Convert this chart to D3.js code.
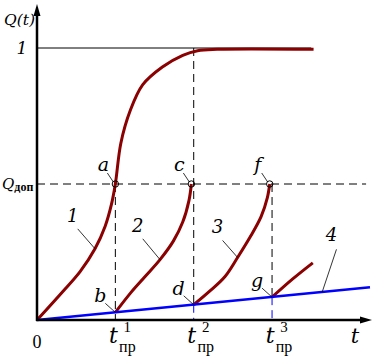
<!DOCTYPE html>
<html>
<head>
<meta charset="utf-8">
<script src="https://cdn.jsdelivr.net/npm/d3@7"></script>
<style>
  body { margin: 0; background: #fff; }
</style>
</head>
<body>
<div id="chart"></div>
<script>
// curve 1: full S-shaped growth from 0 to 1
const curve1 = [
  [0, 0], [0.33, 0.105], [0.55, 0.178], [0.74, 0.262], [0.87, 0.345],
  [0.95, 0.425], [1.0, 0.5], [1.07, 0.65], [1.19, 0.77], [1.35, 0.865],
  [1.6, 0.93], [1.86, 0.973], [2.05, 0.99], [2.3, 0.995], [3.53, 0.995]
];
// curve 2: restart at b up to c
const curve2 = [
  [1.0, 0.028], [1.19, 0.098], [1.38, 0.16], [1.57, 0.222], [1.74, 0.29],
  [1.86, 0.36], [1.94, 0.44], [1.97, 0.5]
];
// curve 3: restart at d up to f
const curve3 = [
  [2.0, 0.056], [2.2, 0.105], [2.4, 0.16], [2.56, 0.23], [2.72, 0.305],
  [2.86, 0.38], [2.94, 0.45], [2.97, 0.5]
];
// curve after g
const curve5 = [[3.0, 0.084], [3.26, 0.15], [3.52, 0.21]];
// curve 4: straight line
const curve4 = [[0, 0], [4.25, 0.12]];

const tPr = [1, 2, 3];
const qDop = 0.5;
const markers = [
  {name: "a", t: 1.0, q: 0.5},
  {name: "c", t: 1.97, q: 0.5},
  {name: "f", t: 2.97, q: 0.5}
];
const lowPoints = [
  {name: "b", t: 1, q: 0.028},
  {name: "d", t: 2, q: 0.056},
  {name: "g", t: 3, q: 0.084}
];
const curveLabels = [
  {name: "1", t: 0.74, q: 0.262},
  {name: "2", t: 1.57, q: 0.222},
  {name: "3", t: 2.56, q: 0.23},
  {name: "4", t: 3.64, q: 0.103}
];

const W = 372, H = 356;
const serif = "'Liberation Serif', 'Times New Roman', serif";
const italicFont = "'DejaVu Serif', serif";
const svg = d3.select("#chart").append("svg")
  .attr("width", W).attr("height", H)
  .style("font-family", serif);

const x = d3.scaleLinear().domain([0, 4.25]).range([37, 370]);
const y = d3.scaleLinear().domain([0, 1]).range([320, 48]);

const red = "#8b0000", blue = "#0000ff";
const line = d3.line().x(d => x(d[0])).y(d => y(d[1])).curve(d3.curveCatmullRom.alpha(0.5));

// reference lines
svg.append("line")
  .attr("x1", x(0)).attr("x2", x(3.5)).attr("y1", y(1)).attr("y2", y(1))
  .attr("stroke", "#000").attr("stroke-width", 1);
svg.append("line")
  .attr("x1", x(0)).attr("x2", x(4.2)).attr("y1", y(qDop)).attr("y2", y(qDop))
  .attr("stroke", "#000").attr("stroke-width", 1).attr("stroke-dasharray", "8,5");

const vTop = [qDop, 1, qDop];
tPr.forEach((t, i) => {
  const low = i === 0 ? 0 : lowPoints[i].q;
  svg.append("line")
    .attr("x1", x(t)).attr("x2", x(t)).attr("y1", y(vTop[i])).attr("y2", y(low))
    .attr("stroke", "#000").attr("stroke-width", 1).attr("stroke-dasharray", "8,5");
  if (i > 0) {
    svg.append("line")
      .attr("x1", x(t)).attr("x2", x(t)).attr("y1", y(low)).attr("y2", y(0))
      .attr("stroke", blue).attr("stroke-width", 1).attr("stroke-dasharray", "8,5");
  }
});

// curves
[curve1, curve2, curve3, curve5].forEach(c => {
  svg.append("path").datum(c).attr("d", line)
    .attr("fill", "none").attr("stroke", red).attr("stroke-width", 3);
});
svg.append("path").datum(curve4).attr("d", d3.line().x(d => x(d[0])).y(d => y(d[1])))
  .attr("fill", "none").attr("stroke", blue).attr("stroke-width", 2.5);

// axes
svg.append("line").attr("x1", x(0)).attr("x2", x(0)).attr("y1", y(0) + 1).attr("y2", 12)
  .attr("stroke", "#000").attr("stroke-width", 2.5);
svg.append("line").attr("x1", x(0) - 1).attr("x2", 362).attr("y1", y(0)).attr("y2", y(0))
  .attr("stroke", "#000").attr("stroke-width", 2.5);
svg.append("path").attr("d", `M${x(0)},4 L${x(0) - 3.5},16 L${x(0) + 3.5},16 Z`).attr("fill", "#000");
svg.append("path").attr("d", `M372,${y(0)} L360,${y(0) - 3.5} L360,${y(0) + 3.5} Z`).attr("fill", "#000");

// markers
svg.selectAll("circle.m").data(markers).enter().append("circle")
  .attr("cx", d => x(d.t)).attr("cy", d => y(d.q)).attr("r", 3.2)
  .attr("fill", "none").attr("stroke", "#000").attr("stroke-width", 1);

// leader lines and labels
const leader = (x1, y1, x2, y2) => svg.append("line")
  .attr("x1", x1).attr("y1", y1).attr("x2", x2).attr("y2", y2)
  .attr("stroke", "#000").attr("stroke-width", 0.8);
const italic = (tx, ty, s, size) => svg.append("text")
  .attr("x", tx).attr("y", ty).attr("text-anchor", "middle")
  .style("font-family", italicFont)
  .style("font-style", "italic").style("font-size", size + "px").text(s);

markers.forEach(d => {
  const px = x(d.t), py = y(d.q);
  leader(px - 8, py - 11, px - 2, py - 2);
  italic(px - 12, py - 13, d.name, 19);
});
lowPoints.forEach(d => {
  const px = x(d.t), py = y(d.q);
  leader(px - 10, py - 9, px, py);
  italic(px - 15, py - 10, d.name, 19);
});
const clOff = [[-23, -23], [-23, -24], [-20, -20], [19, -47]];
curveLabels.forEach((d, i) => {
  const px = x(d.t), py = y(d.q);
  const [dx, dy] = clOff[i];
  leader(px + dx * 0.75, py + dy * 0.95 + 2, px, py);
  italic(px + dx * 0.75 - 5, py + dy - 4, d.name, 18);
});

// axis labels
svg.append("text").attr("x", 4).attr("y", 25)
  .style("font-family", italicFont)
  .style("font-style", "italic").style("font-size", "15.5px").text("Q(t)");
italic(22, 54, "1", 17);
const qd = svg.append("text").attr("x", 2).attr("y", y(qDop) + 5).style("font-size", "16px");
qd.append("tspan").style("font-family", italicFont).style("font-size", "15px")
  .style("font-style", "italic").text("Q");
qd.append("tspan").attr("dy", 2).style("font-size", "12px").style("font-weight", "bold").text("доп");
svg.append("text").attr("x", 37).attr("y", 348).attr("text-anchor", "middle")
  .style("font-size", "18px").text("0");
italic(355, 343, "t", 21);

tPr.forEach(t => {
  const px = x(t);
  svg.append("text").attr("x", px - 2).attr("y", 343).attr("text-anchor", "middle")
    .style("font-family", italicFont)
    .style("font-style", "italic").style("font-size", "22px").text("t");
  svg.append("text").attr("x", px + 12).attr("y", 352).attr("text-anchor", "middle")
    .style("font-size", "16px").text("пр");
  svg.append("text").attr("x", px + 12).attr("y", 332).attr("text-anchor", "middle")
    .style("font-size", "15px").text(t);
});
</script>
</body>
</html>
